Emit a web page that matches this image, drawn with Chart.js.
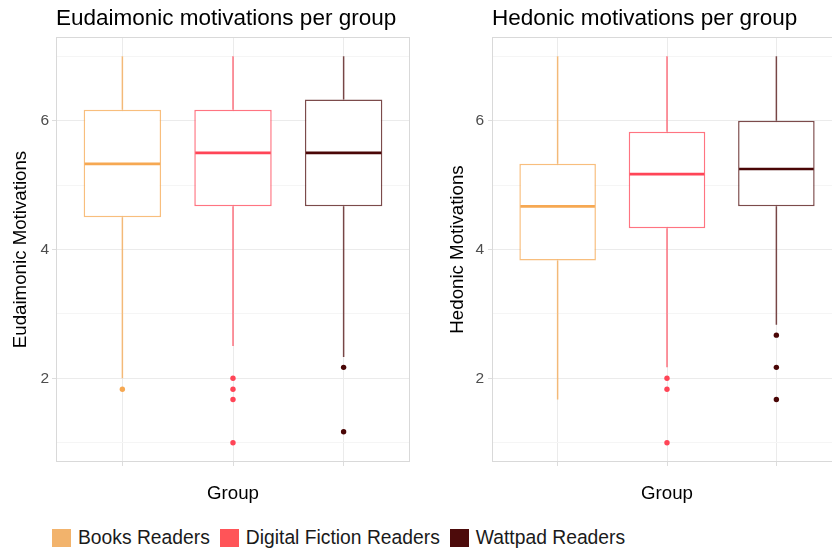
<!DOCTYPE html>
<html>
<head>
<meta charset="utf-8">
<script src="https://cdn.jsdelivr.net/npm/chart.js@4.4.1/dist/chart.umd.min.js"></script>
<style>
  html, body { margin: 0; padding: 0; background: #fff; overflow: hidden; }
  #page { position: relative; width: 832px; height: 550px; overflow: hidden; background: #fff;
          font-family: 'Liberation Sans', Arial, Helvetica, sans-serif; }
  #c1 { position: absolute; left: 0; top: 0; }
  #c2 { position: absolute; left: 416px; top: 0; }
  #legend { position: absolute; left: 52px; top: 528px; height: 19px; display: flex; align-items: center;
            font-size: 19.3px; color: #1a1a1a; white-space: nowrap; }
  .item { display: flex; align-items: center; margin-right: 10px; }
  .key { width: 19px; height: 18px; margin-right: 7px; box-sizing: border-box; }
</style>
</head>
<body>
<div id="page">
  <canvas id="c1" width="416" height="512"></canvas>
  <canvas id="c2" width="430" height="512"></canvas>
  <div id="legend"></div>
</div>
<script>
// Reader groups and their colours
const groups = ['Books Readers', 'Digital Fiction Readers', 'Wattpad Readers'];
const keyColors = ['#F2B36C', '#FF5458', '#4D0B0B'];
const lineColors = ['#F6A852', '#FF4557', '#4A0606'];
const boxColors = ['rgba(246,168,82,0.75)', 'rgba(255,69,87,0.75)', 'rgba(74,6,6,0.72)'];

// Eudaimonic motivations: five-number summaries and outliers per group
const eudMin    = [2.00, 2.50, 2.33];
const eudQ1     = [4.50, 4.67, 4.67];
const eudMedian = [5.33, 5.50, 5.50];
const eudQ3     = [6.17, 6.17, 6.33];
const eudMax    = [7.00, 7.00, 7.00];
const eudOutliers = [[1.83], [2.00, 1.83, 1.67, 1.00], [2.17, 1.17]];

// Hedonic motivations: five-number summaries and outliers per group
const hedMin    = [1.67, 2.17, 2.83];
const hedQ1     = [3.83, 4.33, 4.67];
const hedMedian = [4.67, 5.17, 5.25];
const hedQ3     = [5.33, 5.83, 6.00];
const hedMax    = [7.00, 7.00, 7.00];
const hedOutliers = [[], [2.00, 1.83, 1.00], [2.67, 2.17, 1.67]];

// Axis ticks
const yMajorTicks = [2, 4, 6];
const yMinorTicks = [1, 3, 5, 7];
const groupPositions = [1, 2, 3];

Chart.defaults.font.family = "'Liberation Sans', Arial, Helvetica, sans-serif";

// Legend
const legendEl = document.getElementById('legend');
groups.forEach((g, i) => {
  const item = document.createElement('div');
  item.className = 'item';
  const key = document.createElement('div');
  key.className = 'key';
  key.style.background = keyColors[i];
  const label = document.createElement('span');
  label.textContent = g;
  item.appendChild(key);
  item.appendChild(label);
  legendEl.appendChild(item);
});

function makePanel(canvasId, titleText, yTitleText, s, layout) {
  // whiskers and median lines, positioned from the bar elements and the y scale
  const whiskers = {
    id: 'whiskers',
    afterDatasetsDraw(chart) {
      const meta = chart.getDatasetMeta(0);
      const y = chart.scales.y;
      const ctx = chart.ctx;
      ctx.save();
      meta.data.forEach((bar, i) => {
        const x = bar.x, half = bar.width / 2;
        ctx.strokeStyle = boxColors[i];
        ctx.lineWidth = 1.5;
        ctx.beginPath();
        ctx.moveTo(x, y.getPixelForValue(s.q3[i]));
        ctx.lineTo(x, y.getPixelForValue(s.max[i]));
        ctx.moveTo(x, y.getPixelForValue(s.q1[i]));
        ctx.lineTo(x, y.getPixelForValue(s.min[i]));
        ctx.stroke();
        const ym = y.getPixelForValue(s.median[i]);
        ctx.strokeStyle = lineColors[i];
        ctx.lineWidth = 2.6;
        ctx.beginPath();
        ctx.moveTo(x - half + 1, ym);
        ctx.lineTo(x + half - 1, ym);
        ctx.stroke();
      });
      ctx.restore();
    }
  };
  // panel frame
  const frame = {
    id: 'frame',
    afterDraw(chart) {
      const a = chart.chartArea, ctx = chart.ctx;
      ctx.save();
      ctx.strokeStyle = '#D9D9D9';
      ctx.lineWidth = 1;
      ctx.strokeRect(Math.round(a.left) + 0.5, Math.round(a.top) + 0.5,
                     Math.round(a.right - a.left) - 1, Math.round(a.bottom - a.top) - 1);
      ctx.restore();
    }
  };

  const boxes = groups.map((g, i) => ({ x: groupPositions[i], y: [s.q1[i], s.q3[i]] }));
  const pts = [], ptColors = [];
  s.outliers.forEach((arr, i) => arr.forEach(v => {
    pts.push({ x: groupPositions[i], y: v });
    ptColors.push(lineColors[i]);
  }));

  return new Chart(document.getElementById(canvasId), {
    type: 'bar',
    data: {
      datasets: [
        {
          type: 'bar', data: boxes, backgroundColor: '#ffffff', borderColor: boxColors,
          borderWidth: 1.5, borderSkipped: false, categoryPercentage: 1, barPercentage: 0.7, order: 2
        },
        {
          type: 'scatter', data: pts, backgroundColor: ptColors, borderWidth: 0,
          pointRadius: 2.7, order: 1
        }
      ]
    },
    options: {
      responsive: false, animation: false, events: [],
      layout: { padding: { right: layout.rightPad } },
      plugins: {
        legend: { display: false },
        tooltip: { enabled: false },
        title: {
          display: true, text: titleText, align: 'start', fullSize: false, color: '#000',
          font: { size: 22.5, weight: 'normal' }, padding: { top: 5.6, bottom: 4.4 }
        }
      },
      scales: {
        x: {
          type: 'linear', bounds: 'data', min: 0.4, max: 3.6, offset: false,
          afterBuildTicks: sc => { sc.ticks = groupPositions.map(v => ({ value: v })); },
          afterFit: sc => { sc.height = 50; },
          ticks: { display: false },
          grid: { offset: false, color: '#EBEBEB', tickColor: '#DDDDDD', tickLength: 4, drawTicks: true },
          border: { display: false },
          title: { display: true, text: 'Group', color: '#000', font: { size: 18.7 }, padding: { top: 0, bottom: 6.8 } }
        },
        y: {
          type: 'linear', bounds: 'data', min: 0.7, max: 7.3,
          afterBuildTicks: sc => {
            sc.ticks = yMajorTicks.concat(yMinorTicks).sort((a, b) => a - b).map(v => ({ value: v }));
          },
          afterFit: sc => { sc.width = layout.yWidth; },
          ticks: {
            color: '#4D4D4D', font: { size: 15.5 }, padding: layout.tickPad,
            callback: v => yMajorTicks.includes(v) ? String(v) : ''
          },
          grid: {
            color: c => yMajorTicks.includes(c.tick.value) ? '#EBEBEB' : '#F5F5F5',
            tickColor: c => yMajorTicks.includes(c.tick.value) ? '#DDDDDD' : 'rgba(0,0,0,0)',
            tickLength: 4
          },
          border: { display: false },
          title: { display: true, text: yTitleText, color: '#000', font: { size: 18.7 }, padding: { top: layout.yTitlePad } }
        }
      }
    },
    plugins: [whiskers, frame]
  });
}

makePanel('c1', 'Eudaimonic motivations per group', 'Eudaimonic Motivations',
  { min: eudMin, q1: eudQ1, median: eudMedian, q3: eudQ3, max: eudMax, outliers: eudOutliers },
  { yWidth: 56, tickPad: 3, yTitlePad: 9.8, rightPad: 6 });

makePanel('c2', 'Hedonic motivations per group', 'Hedonic Motivations',
  { min: hedMin, q1: hedQ1, median: hedMedian, q3: hedQ3, max: hedMax, outliers: hedOutliers },
  { yWidth: 76, tickPad: 4, yTitlePad: 30.8, rightPad: 0 });
</script>
</body>
</html>
